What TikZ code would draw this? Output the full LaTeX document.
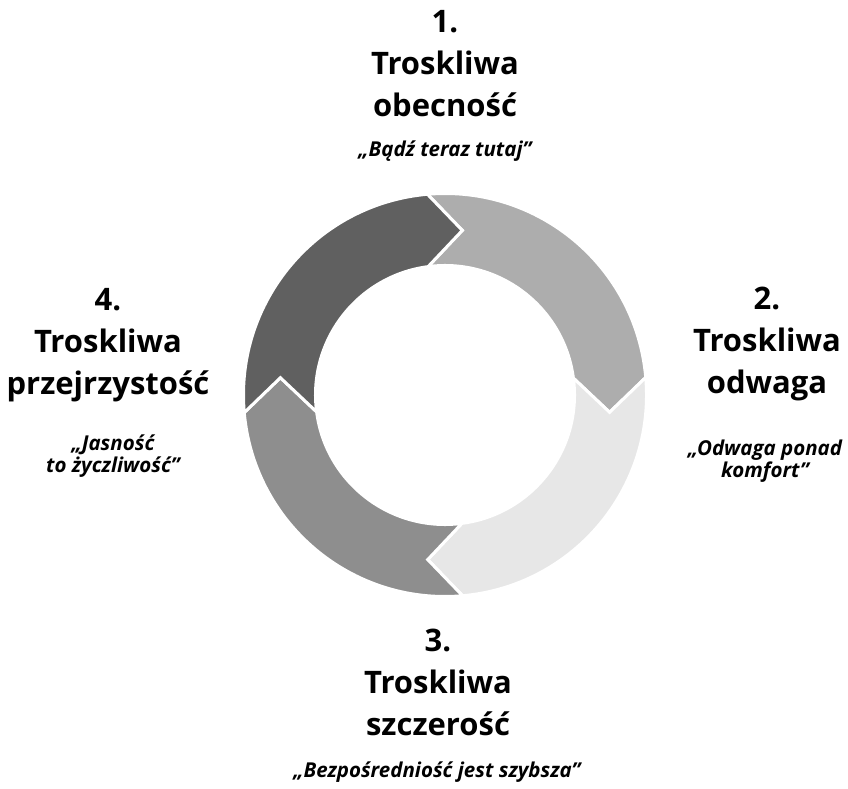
\documentclass[tikz,border=0pt]{standalone}
\usepackage{fontspec}
\setmainfont{Open Sans}

\definecolor{segA}{HTML}{ADADAD}
\definecolor{segB}{HTML}{E7E7E7}
\definecolor{segC}{HTML}{8E8E8E}
\definecolor{segD}{HTML}{606060}

\begin{document}
\begin{tikzpicture}[
  x=1pt, y=1pt,
  segment/.style={draw=white, line width=3pt, line join=miter},
  title/.style={font=\fontsize{31}{42}\selectfont\bfseries, align=center, anchor=base, inner sep=0pt},
  motto/.style={font=\fontsize{20.5}{22}\selectfont\bfseries\itshape, align=center, anchor=base, inner sep=0pt}
]
  \useasboundingbox (0,0) rectangle (848,788);

  % Ring of four arrows
  \begin{scope}[shift={(445,393)}]
    \foreach \t/\col [evaluate=\t as \h using \t-90] in {95/segA, 5/segB, -85/segC, 185/segD}
      \path[segment, fill=\col] (\t:201.5) arc[start angle=\t, end angle=\h, radius=201.5]
        -- (\h-11:165.5) -- (\h+2.5:129.5)
        arc[start angle=\h+2.5, end angle=\t+2.5, radius=129.5]
        -- (\t-11:165.5) -- cycle;
  \end{scope}

  % Titles (anchored at the baseline of the last line)
  \node[title] (t1) at (445,671) {1.\\Troskliwa\\obecność};
  \node[title] (t2) at (767,395) {2.\\Troskliwa\\odwaga};
  \node[title] (t3) at (438,53) {3.\\Troskliwa\\szczerość};
  \node[title] (t4) at (108,393) {4.\\Troskliwa\\przejrzystość};

  % Mottos
  \node[motto] (m1) at (445,631) {„Bądź teraz tutaj”};
  \node[motto] (m2) at (765,311) {„Odwaga ponad\\komfort”};
  \node[motto] (m3) at (437,11) {„Bezpośredniość jest szybsza”};
  \node[motto] (m4) at (113,316) {„Jasność\\to życzliwość”};
\end{tikzpicture}
\end{document}
